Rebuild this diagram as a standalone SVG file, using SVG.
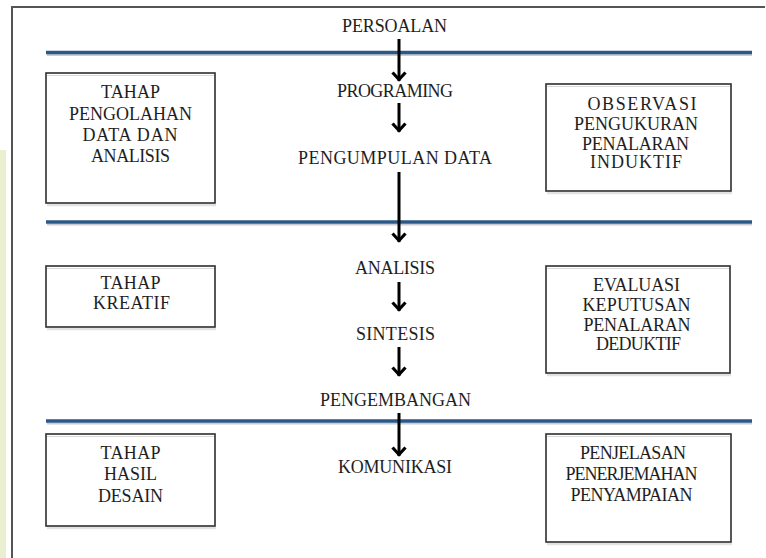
<svg xmlns="http://www.w3.org/2000/svg" width="766" height="558" viewBox="0 0 766 558">
  <style>
    .frame { fill: none; stroke: #555; stroke-width: 2; }
    .band { stroke: #2b5889; stroke-width: 3.5; }
    .band-shadow { stroke: #c9ccd2; stroke-width: 2; }
    .box { fill: #fff; stroke: #2e2e2e; stroke-width: 1.6; }
    .box-inner { stroke: #d9d9d9; stroke-width: 1.2; }
    .box-shadow { stroke: #e2e2e2; stroke-width: 2.5; }
    .lbl { font-family: "Liberation Serif", "Times New Roman", serif; font-size: 18px; fill: #1e1e1e; text-anchor: middle; }
    .flow { stroke: #000; stroke-width: 3; fill: none; marker-end: url(#ah); }
  </style>
  <defs>
    <marker id="ah" markerUnits="userSpaceOnUse" viewBox="-12 -9 16 18" refX="0" refY="0" markerWidth="16" markerHeight="18" orient="auto">
      <path d="M-8.5,-6.5 L-1.5,0 L-8.5,6.5" fill="none" stroke="#000" stroke-width="3.2"/>
    </marker>
  </defs>

  <rect width="766" height="558" fill="#fff"/>
  <!-- tinted page margin on the left -->
  <rect x="0" y="150" width="6" height="408" fill="#eaefcf"/>

  <!-- outer frame -->
  <path class="frame" d="M12,562 V7 H765"/>

  <!-- stage separators -->
  <g id="separators">
    <line class="band-shadow" x1="47" y1="55" x2="752" y2="55"/>
    <line class="band" x1="46" y1="52.5" x2="752" y2="52.5"/>
    <line class="band-shadow" x1="47" y1="224.5" x2="752" y2="224.5"/>
    <line class="band" x1="46" y1="222" x2="752" y2="222"/>
    <line class="band-shadow" x1="47" y1="423.5" x2="752" y2="423.5"/>
    <line class="band" x1="46" y1="421" x2="752" y2="421"/>
  </g>

  <!-- central process steps -->
  <g id="persoalan"><text class="lbl" x="394.5" y="32" textLength="105" lengthAdjust="spacing">PERSOALAN</text></g>
  <g id="programing"><text class="lbl" x="395" y="97" textLength="116" lengthAdjust="spacing">PROGRAMING</text></g>
  <g id="pengumpulan"><text class="lbl" x="395" y="164" textLength="194" lengthAdjust="spacing">PENGUMPULAN DATA</text></g>
  <g id="analisis"><text class="lbl" x="395" y="274" textLength="80" lengthAdjust="spacing">ANALISIS</text></g>
  <g id="sintesis"><text class="lbl" x="395.5" y="340" textLength="79" lengthAdjust="spacing">SINTESIS</text></g>
  <g id="pengembangan"><text class="lbl" x="395.5" y="406" textLength="151" lengthAdjust="spacing">PENGEMBANGAN</text></g>
  <g id="komunikasi"><text class="lbl" x="395" y="473" textLength="114" lengthAdjust="spacing">KOMUNIKASI</text></g>

  <!-- left: stage boxes -->
  <g id="tahap-pengolahan">
    <line class="box-shadow" x1="47" y1="205" x2="216" y2="205"/>
    <rect class="box" x="46" y="73" width="169" height="130"/>
    <line class="box-inner" x1="47" y1="75.5" x2="214" y2="75.5"/>
    <text class="lbl" x="130.5" y="98" textLength="59" lengthAdjust="spacing">TAHAP</text>
    <text class="lbl" x="130.5" y="119.5" textLength="123" lengthAdjust="spacing">PENGOLAHAN</text>
    <text class="lbl" x="130" y="141" textLength="95" lengthAdjust="spacing">DATA DAN</text>
    <text class="lbl" x="130.5" y="162" textLength="79" lengthAdjust="spacing">ANALISIS</text>
  </g>
  <g id="tahap-kreatif">
    <line class="box-shadow" x1="47" y1="329" x2="216" y2="329"/>
    <rect class="box" x="46" y="266" width="169" height="61"/>
    <line class="box-inner" x1="47" y1="268.5" x2="214" y2="268.5"/>
    <text class="lbl" x="130.5" y="289" textLength="60" lengthAdjust="spacing">TAHAP</text>
    <text class="lbl" x="131.5" y="309" textLength="77" lengthAdjust="spacing">KREATIF</text>
  </g>
  <g id="tahap-hasil">
    <line class="box-shadow" x1="47" y1="528" x2="216" y2="528"/>
    <rect class="box" x="46" y="434" width="169" height="92"/>
    <line class="box-inner" x1="47" y1="436.5" x2="214" y2="436.5"/>
    <text class="lbl" x="130.5" y="459" textLength="60" lengthAdjust="spacing">TAHAP</text>
    <text class="lbl" x="130.5" y="480" textLength="53" lengthAdjust="spacing">HASIL</text>
    <text class="lbl" x="130.5" y="502" textLength="65" lengthAdjust="spacing">DESAIN</text>
  </g>

  <!-- right: activity boxes -->
  <g id="observasi">
    <line class="box-shadow" x1="547" y1="193" x2="732" y2="193"/>
    <rect class="box" x="546" y="84" width="185" height="107"/>
    <line class="box-inner" x1="547" y1="86.5" x2="730" y2="86.5"/>
    <text class="lbl" x="642" y="110" textLength="109" lengthAdjust="spacing">OBSERVASI</text>
    <text class="lbl" x="636" y="130" textLength="124" lengthAdjust="spacing">PENGUKURAN</text>
    <text class="lbl" x="635.5" y="149.5" textLength="107" lengthAdjust="spacing">PENALARAN</text>
    <text class="lbl" x="636" y="168" textLength="92" lengthAdjust="spacing">INDUKTIF</text>
  </g>
  <g id="evaluasi">
    <line class="box-shadow" x1="547" y1="375" x2="731" y2="375"/>
    <rect class="box" x="546" y="266" width="184" height="107"/>
    <line class="box-inner" x1="547" y1="268.5" x2="729" y2="268.5"/>
    <text class="lbl" x="636.5" y="290.5" textLength="87" lengthAdjust="spacing">EVALUASI</text>
    <text class="lbl" x="636.5" y="310.5" textLength="108" lengthAdjust="spacing">KEPUTUSAN</text>
    <text class="lbl" x="637" y="330.5" textLength="107" lengthAdjust="spacing">PENALARAN</text>
    <text class="lbl" x="638.5" y="350" textLength="85" lengthAdjust="spacing">DEDUKTIF</text>
  </g>
  <g id="penjelasan">
    <line class="box-shadow" x1="547" y1="544" x2="732" y2="544"/>
    <rect class="box" x="546" y="434" width="185" height="108"/>
    <line class="box-inner" x1="547" y1="436.5" x2="730" y2="436.5"/>
    <text class="lbl" x="633" y="459" textLength="106" lengthAdjust="spacing">PENJELASAN</text>
    <text class="lbl" x="631.5" y="479.5" textLength="132" lengthAdjust="spacing">PENERJEMAHAN</text>
    <text class="lbl" x="631.5" y="500.5" textLength="122" lengthAdjust="spacing">PENYAMPAIAN</text>
  </g>

  <!-- connectors -->
  <g id="connectors">
    <line class="flow" x1="399" y1="39" x2="399" y2="81"/>
    <line class="flow" x1="399" y1="103" x2="399" y2="132"/>
    <line class="flow" x1="399" y1="172" x2="399" y2="242"/>
    <line class="flow" x1="399" y1="282" x2="399" y2="311"/>
    <line class="flow" x1="399" y1="347" x2="399" y2="376"/>
    <line class="flow" x1="399" y1="413" x2="399" y2="456"/>
  </g>
</svg>
